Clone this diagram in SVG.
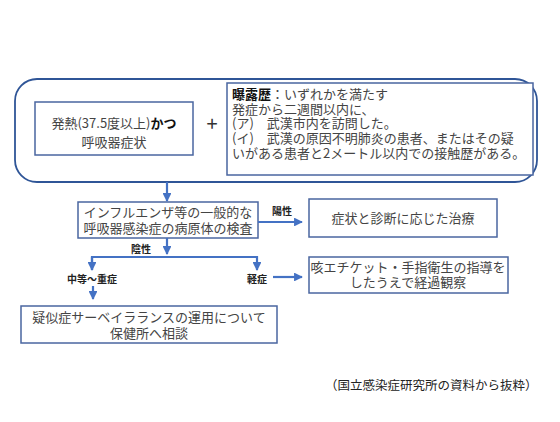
<svg xmlns="http://www.w3.org/2000/svg" width="560" height="422" viewBox="0 0 560 422">
<defs>
<style>
.box{fill:#fff;stroke:#4a66a0;stroke-width:1.5}
.outer{fill:none;stroke:#2f5597;stroke-width:1.8}
.t{font-family:"Noto Sans CJK JP","Noto Sans",sans-serif;font-size:13px;fill:#444}
.c{text-anchor:middle}
.lbl{font-family:"Noto Sans CJK JP","Noto Sans",sans-serif;font-size:10px;font-weight:bold;fill:#222}
.ln{fill:none;stroke:#4472c4;stroke-width:2.2}
</style>
<marker id="ah" viewBox="0 0 10 10" refX="9" refY="5" markerWidth="4" markerHeight="4" orient="auto" markerUnits="strokeWidth">
<path d="M0,0 L10,5 L0,10 z" fill="#4472c4"/>
</marker>
</defs>
<rect width="560" height="422" fill="#fff"/>
<g id="outer">
<rect class="outer" x="15" y="79" width="522" height="103" rx="22" ry="22"/>
</g>
<g id="fever">
<rect class="box" x="35" y="102" width="158" height="53"/>
<text class="t c"><tspan x="114" y="128">発熱(37.5度以上)<tspan font-weight="bold" fill="#111">かつ</tspan></tspan><tspan x="114" y="147">呼吸器症状</tspan></text>
</g>
<g id="plus">
<text class="t c" x="212" y="131" style="font-size:20px;fill:#333">+</text>
</g>
<g id="exposure">
<rect class="box" x="227" y="83" width="306" height="92"/>
<text class="t"><tspan x="232" y="99"><tspan font-weight="bold" fill="#111">曝露歴</tspan>：いずれかを満たす</tspan><tspan x="232" y="114">発症から二週間以内に、</tspan><tspan x="232" y="128">(ア)　武漢市内を訪問した。</tspan><tspan x="232" y="143">(イ)　武漢の原因不明肺炎の患者、またはその疑</tspan><tspan x="232" y="158">いがある患者と2メートル以内での接触歴がある。</tspan></text>
</g>
<g id="test">
<rect class="box" x="78" y="202" width="180" height="36"/>
<text class="t c"><tspan x="168" y="217">インフルエンザ等の一般的な</tspan><tspan x="168" y="233">呼吸器感染症の病原体の検査</tspan></text>
</g>
<g id="treat">
<rect class="box" x="309" y="199" width="188" height="38"/>
<text class="t c" x="403" y="223">症状と診断に応じた治療</text>
</g>
<g id="observe">
<rect class="box" x="309" y="257" width="199" height="36"/>
<text class="t c"><tspan x="408" y="272">咳エチケット・手指衛生の指導を</tspan><tspan x="408" y="287">したうえで経過観察</tspan></text>
</g>
<g id="consult">
<rect class="box" x="21" y="306" width="256" height="37"/>
<text class="t c"><tspan x="149" y="322">疑似症サーベイラランスの運用について</tspan><tspan x="149" y="338">保健所へ相談</tspan></text>
</g>
<g id="connectors">
<line class="ln" x1="167" y1="182" x2="167" y2="201" marker-end="url(#ah)"/>
<line class="ln" x1="258" y1="222" x2="302" y2="222" marker-end="url(#ah)"/>
<line class="ln" x1="167" y1="238" x2="167" y2="254" marker-end="url(#ah)"/>
<polyline class="ln" points="92,270 92,257 257,257 257,270" marker-end="url(#ah)"/>
<line class="ln" x1="92" y1="257" x2="92" y2="270" marker-end="url(#ah)"/>
<line class="ln" x1="93" y1="286" x2="93" y2="299" marker-end="url(#ah)"/>
<line class="ln" x1="273" y1="277" x2="302" y2="277" marker-end="url(#ah)"/>
</g>
<g id="labels">
<text class="lbl c" x="282" y="215">陽性</text>
<text class="lbl" x="131" y="253">陰性</text>
<text class="lbl c" x="92" y="283">中等〜重症</text>
<text class="lbl c" x="257" y="283">軽症</text>
</g>
<text class="t" x="325" y="390" style="font-size:12.5px;fill:#222">（国立感染症研究所の資料から抜粋）</text>
</svg>
